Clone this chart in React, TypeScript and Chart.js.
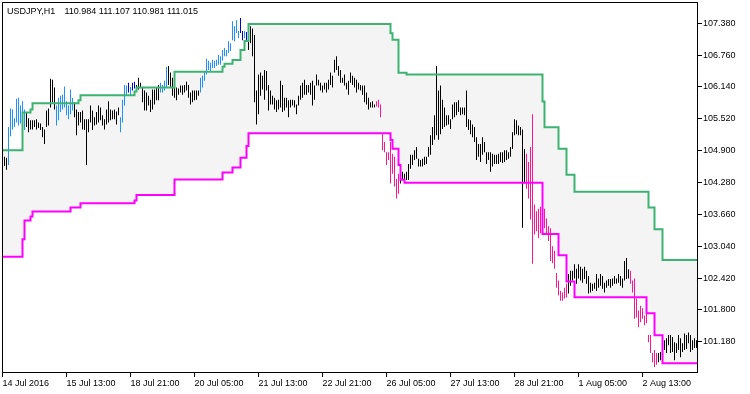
import React, { useEffect, useRef } from 'react';
import { Chart, registerables } from 'chart.js';

Chart.register(...registerables);

const TITLE_SYMBOL = 'USDJPY,H1';
const TITLE_VALUES = '110.984 111.107 110.981 111.015';

const xTickIndex = [0, 32, 64, 96, 128, 160, 192, 224, 256, 288, 320];
const xTickLabels = [
  '14 Jul 2016', '15 Jul 13:00', '18 Jul 21:00', '20 Jul 05:00', '21 Jul 13:00',
  '22 Jul 21:00', '26 Jul 05:00', '27 Jul 13:00', '28 Jul 21:00', '1 Aug 05:00', '2 Aug 13:00',
];
const yTickValues = [101.18, 101.8, 102.42, 103.04, 103.66, 104.28, 104.9, 105.52, 106.14, 106.76, 107.38];
const Y_MIN = 100.591;
const Y_MAX = 107.708;

const barHigh = [
  104.82, 104.78, 104.76, 105.36, 105.72, 105.70, 105.53, 105.91, 105.93, 105.78,
  105.86, 105.70, 105.65, 105.53, 105.49, 105.49, 105.49, 105.51, 105.45, 105.43,
  105.36, 105.31, 105.68, 105.72, 106.30, 106.28, 106.13, 105.78, 105.93, 105.97,
  105.99, 106.15, 105.86, 105.78, 106.09, 105.93, 105.84, 105.70, 105.65, 105.65,
  105.68, 105.51, 105.51, 105.51, 105.78, 105.68, 105.55, 105.65, 105.78, 105.74,
  105.59, 105.51, 105.70, 105.86, 105.70, 105.68, 105.70, 105.66, 105.74, 105.55,
  105.89, 106.18, 106.17, 106.22, 106.14, 106.22, 106.24, 106.18, 106.32, 106.22,
  106.13, 106.07, 106.03, 105.97, 105.89, 106.09, 106.09, 106.13, 106.18, 106.22,
  106.18, 106.26, 106.53, 106.55, 106.42, 106.32, 106.26, 106.13, 106.11, 106.17,
  106.17, 106.18, 106.24, 106.18, 106.03, 106.07, 106.07, 106.07, 106.07, 106.32,
  106.36, 106.45, 106.69, 106.65, 106.61, 106.67, 106.65, 106.67, 106.76, 106.74,
  106.86, 106.90, 106.86, 107.03, 106.99, 107.42, 107.32, 107.44, 107.23, 107.48,
  107.23, 107.23, 107.21, 107.23, 107.32, 107.28, 107.15, 106.07, 106.38, 106.42,
  106.36, 106.47, 106.45, 106.18, 106.07, 105.97, 105.93, 105.88, 105.89, 106.26,
  106.18, 105.93, 105.93, 105.88, 105.89, 105.89, 105.88, 105.80, 105.97, 106.17,
  106.22, 106.28, 106.18, 106.18, 106.22, 106.26, 106.17, 106.38, 106.28, 106.22,
  106.17, 106.22, 106.22, 106.28, 106.42, 106.36, 106.67, 106.74, 106.55, 106.47,
  106.32, 106.38, 106.22, 106.26, 106.42, 106.36, 106.32, 106.28, 106.22, 106.18,
  106.17, 106.17, 106.03, 105.93, 105.84, 105.86, 105.80, 105.86, 105.89, 105.80,
  105.22, 105.07, 104.87, 104.87, 105.07, 104.84, 104.78, 104.35, 104.45, 104.49,
  104.49, 104.45, 104.49, 104.64, 104.82, 104.82, 104.91, 104.97, 104.74, 104.72,
  104.74, 104.78, 104.78, 104.97, 105.20, 105.36, 105.59, 106.55, 106.07, 106.17,
  105.89, 105.74, 105.59, 105.59, 105.51, 105.80, 105.84, 105.84, 105.88, 105.74,
  105.74, 105.74, 106.07, 105.51, 105.49, 105.41, 105.36, 105.16, 105.03, 105.03,
  105.16, 105.07, 104.87, 104.87, 104.87, 104.84, 104.82, 104.82, 104.84, 104.87,
  104.87, 104.91, 104.91, 104.87, 104.97, 105.26, 105.51, 105.49, 105.39, 105.36,
  105.31, 104.93, 104.84, 104.68, 104.97, 105.61, 103.85, 103.72, 103.77, 103.81,
  103.95, 103.77, 103.58, 103.43, 103.39, 103.04, 102.95, 102.52, 102.37, 102.17,
  102.14, 102.23, 102.31, 102.50, 102.56, 102.56, 102.69, 102.60, 102.69, 102.64,
  102.60, 102.64, 102.56, 102.46, 102.33, 102.31, 102.33, 102.50, 102.41, 102.50,
  102.46, 102.33, 102.37, 102.40, 102.40, 102.41, 102.46, 102.41, 102.50, 102.46,
  102.41, 102.75, 102.81, 102.59, 102.56, 102.37, 102.41, 102.02, 101.79, 101.88,
  101.83, 101.69, 101.75, 101.31, 101.31, 100.96, 101.02, 100.96, 100.96, 100.98,
  101.06, 101.21, 101.25, 101.31, 101.31, 101.27, 101.17, 101.15, 101.31, 101.25,
  101.15, 101.34, 101.31, 101.36, 101.31, 101.21, 101.25, 101.21,
];

const barLow = [
  104.62, 104.60, 104.53, 104.62, 105.18, 105.31, 105.36, 105.45, 105.39, 105.43,
  105.28, 105.30, 105.36, 105.26, 105.31, 105.31, 105.36, 105.31, 105.34, 105.30,
  105.16, 105.03, 105.36, 105.39, 105.74, 105.84, 105.70, 105.39, 105.49, 105.65,
  105.70, 105.74, 105.59, 105.51, 105.61, 105.68, 105.55, 105.20, 105.39, 105.45,
  105.31, 105.30, 104.62, 105.26, 105.45, 105.30, 105.39, 105.41, 105.45, 105.49,
  105.39, 105.31, 105.41, 105.45, 105.49, 105.51, 105.51, 105.41, 105.59, 105.26,
  105.45, 105.78, 105.99, 106.03, 105.97, 106.07, 106.11, 106.07, 106.09, 106.13,
  105.84, 105.68, 105.68, 105.78, 105.65, 105.70, 105.80, 105.88, 105.88, 106.03,
  106.03, 106.07, 106.13, 106.18, 106.13, 105.97, 105.93, 105.88, 105.99, 106.03,
  105.99, 106.03, 106.07, 105.93, 105.80, 105.84, 105.88, 105.89, 105.97, 106.03,
  106.13, 106.26, 106.38, 106.47, 106.45, 106.51, 106.51, 106.55, 106.57, 106.57,
  106.65, 106.74, 106.74, 106.80, 106.84, 107.05, 107.03, 107.19, 107.09, 107.19,
  107.05, 107.09, 107.05, 106.86, 106.99, 106.74, 105.84, 105.41, 105.61, 105.97,
  106.09, 105.89, 106.07, 105.68, 105.80, 105.80, 105.70, 105.65, 105.70, 105.74,
  105.65, 105.68, 105.74, 105.55, 105.74, 105.78, 105.74, 105.61, 105.78, 105.89,
  105.93, 105.99, 105.99, 106.03, 105.99, 105.78, 105.89, 106.17, 106.17, 106.07,
  106.03, 106.09, 106.03, 106.09, 106.18, 106.13, 106.42, 106.47, 106.36, 106.22,
  106.22, 106.17, 106.09, 105.99, 106.22, 106.18, 106.13, 106.03, 106.09, 106.07,
  105.99, 105.84, 105.80, 105.70, 105.74, 105.74, 105.74, 105.76, 105.74, 105.55,
  104.91, 104.87, 104.62, 104.72, 104.26, 104.45, 104.20, 103.97, 104.06, 104.26,
  104.33, 104.30, 104.33, 104.33, 104.55, 104.62, 104.72, 104.74, 104.59, 104.59,
  104.59, 104.62, 104.64, 104.78, 104.82, 105.01, 105.11, 105.20, 105.11, 105.22,
  105.32, 105.36, 105.39, 105.41, 105.32, 105.51, 105.55, 105.59, 105.65, 105.59,
  105.61, 105.59, 105.36, 105.30, 105.22, 105.16, 105.07, 104.72, 104.78, 104.68,
  104.82, 104.87, 104.64, 104.72, 104.49, 104.59, 104.64, 104.64, 104.64, 104.68,
  104.66, 104.68, 104.72, 104.74, 104.78, 104.93, 105.20, 105.22, 105.20, 105.20,
  103.40, 104.26, 104.16, 103.97, 103.56, 102.70, 103.27, 103.33, 103.20, 103.29,
  103.47, 103.39, 103.27, 103.14, 102.75, 102.71, 102.60, 102.23, 102.08, 101.98,
  101.98, 102.02, 102.04, 102.12, 102.27, 102.37, 102.41, 102.31, 102.41, 102.37,
  102.33, 102.40, 102.31, 102.12, 102.14, 102.17, 102.21, 102.17, 102.23, 102.27,
  102.21, 102.14, 102.23, 102.27, 102.23, 102.27, 102.31, 102.31, 102.33, 102.27,
  102.23, 102.37, 102.40, 102.41, 102.31, 102.14, 101.63, 101.65, 101.46, 101.56,
  101.63, 101.50, 101.54, 101.17, 100.96, 100.78, 100.69, 100.73, 100.78, 100.82,
  100.86, 101.02, 100.96, 101.11, 100.96, 100.98, 100.82, 100.96, 101.02, 100.88,
  100.98, 101.02, 101.04, 101.15, 100.98, 101.02, 101.06, 101.06,
];

// k = neutral, b = up signal, d = strong up, p = down signal ; [code, bar count]
const barColorRuns: [string, number][] = [
  ['k', 3], ['b', 9], ['k', 15], ['b', 9], ['k', 23], ['b', 4], ['d', 1], ['b', 1], ['d', 2],
  ['k', 12], ['b', 4], ['k', 16], ['b', 20], ['d', 2], ['b', 1], ['d', 1], ['k', 64], ['p', 12],
  ['k', 63], ['p', 21], ['k', 31], ['p', 14], ['k', 2], ['p', 1], ['k', 17],
];

// [bar index where level starts, level]
const upperSteps: [number, number][] = [
  [0, 104.906], [10, 105.645], [14, 105.702], [15, 105.824], [38, 105.882], [39, 105.978],
  [66, 106.05], [67, 106.127], [86, 106.435], [110, 106.532], [111, 106.59], [115, 106.667],
  [119, 106.86], [121, 107.033], [123, 107.367], [194, 107.187], [195, 107.058], [198, 106.416],
  [202, 106.383], [270, 105.857], [271, 105.355], [278, 104.937], [282, 104.43], [286, 104.102],
  [323, 103.793], [326, 103.369], [330, 102.771],
];
const lowerSteps: [number, number][] = [
  [0, 102.835], [10, 103.176], [11, 103.542], [14, 103.62], [15, 103.716], [34, 103.793],
  [39, 103.876], [66, 103.928], [67, 104.038], [86, 104.339], [110, 104.474], [115, 104.57],
  [119, 104.763], [122, 104.989], [123, 105.24], [194, 105.105], [195, 104.937], [198, 104.623],
  [199, 104.333], [201, 104.275], [270, 103.278], [278, 102.862], [282, 102.353], [286, 102.044],
  [322, 101.736], [326, 101.306], [330, 100.76],
];
const LAST_INDEX = 347;

const COLORS: Record<string, string> = { k: '#000000', b: '#1E90FF', d: '#0000CD', p: '#FF1493' };
const FONT = { family: 'Liberation Sans', size: 9 };

export default function App() {
  const ref = useRef<HTMLCanvasElement>(null);

  useEffect(() => {
    const barColors: string[] = [];
    barColorRuns.forEach(([c, n]) => {
      for (let j = 0; j < n; j++) barColors.push(COLORS[c]);
    });
    const bars = barHigh.map((h, i) => ({ x: i, y: [barLow[i], h] }));
    const stepPoints = (steps: [number, number][]) => {
      const pts = steps.map(([i, v]) => ({ x: i, y: v }));
      pts.push({ x: LAST_INDEX + 1, y: steps[steps.length - 1][1] });
      return pts;
    };

    const framePlugin = {
      id: 'frameAndTitle',
      afterDraw(chart: any) {
        const ctx = chart.ctx;
        ctx.save();
        ctx.strokeStyle = '#000';
        ctx.lineWidth = 1;
        ctx.strokeRect(2.5, 2.5, 695, 370);
        ctx.fillStyle = '#000';
        ctx.font = '9px "Liberation Sans"';
        ctx.textBaseline = 'alphabetic';
        ctx.textAlign = 'left';
        ctx.fillText(TITLE_SYMBOL, 7, 13.5);
        ctx.fillText(TITLE_VALUES, 64.5, 13.5);
        ctx.restore();
      },
    };

    const chart = new Chart(ref.current as HTMLCanvasElement, {
      type: 'bar',
      data: {
        datasets: [
          {
            type: 'line',
            data: stepPoints(upperSteps),
            borderColor: '#3CB371',
            borderWidth: 2,
            pointRadius: 0,
            stepped: 'before',
            fill: '+1',
            backgroundColor: '#F4F4F4',
            order: 0,
          } as any,
          {
            type: 'line',
            data: stepPoints(lowerSteps),
            borderColor: '#FF00FF',
            borderWidth: 2,
            pointRadius: 0,
            stepped: 'before',
            fill: false,
            order: 0,
          } as any,
          {
            type: 'bar',
            data: bars,
            backgroundColor: barColors,
            borderWidth: 0,
            barThickness: 1,
            inflateAmount: 0,
            order: 1,
          } as any,
        ],
      },
      options: {
        responsive: false,
        animation: false,
        devicePixelRatio: 1,
        events: [],
        layout: { padding: { left: 3, top: 3, right: 0, bottom: 0 } },
        plugins: {
          legend: { display: false },
          tooltip: { enabled: false },
          filler: { drawTime: 'beforeDatasetsDraw' },
        } as any,
        scales: {
          x: {
            type: 'linear',
            min: 0.25,
            max: 347.75,
            offset: false,
            grid: { offset: false, drawOnChartArea: false, drawTicks: true, tickLength: 5, color: '#000' },
            border: { display: false },
            ticks: {
              autoSkip: false,
              maxRotation: 0,
              minRotation: 0,
              align: 'start',
              padding: 1,
              font: FONT,
              color: '#000',
              callback: (v: any) => {
                const k = xTickIndex.indexOf(Number(v));
                return k >= 0 ? xTickLabels[k] : '';
              },
            },
            afterBuildTicks: (s: any) => {
              s.ticks = xTickIndex.map((v) => ({ value: v }));
            },
            afterFit: (s: any) => {
              s.height = 22;
            },
          },
          y: {
            type: 'linear',
            position: 'right',
            min: Y_MIN,
            max: Y_MAX,
            beginAtZero: false,
            grid: { drawOnChartArea: false, drawTicks: true, tickLength: 4, color: '#000' },
            border: { display: false },
            ticks: {
              autoSkip: false,
              padding: 1,
              font: FONT,
              color: '#000',
              callback: (v: any) => Number(v).toFixed(3),
            },
            afterBuildTicks: (s: any) => {
              s.ticks = yTickValues.map((v) => ({ value: v }));
            },
            afterFit: (s: any) => {
              s.width = 52;
            },
          },
        } as any,
      },
      plugins: [framePlugin],
    } as any);

    return () => chart.destroy();
  }, []);

  return (
    <div style={{ position: 'fixed', left: 0, top: 0, width: 750, height: 394, background: '#fff' }}>
      <canvas ref={ref} width={750} height={394} style={{ display: 'block', width: 750, height: 394 }} />
    </div>
  );
}
